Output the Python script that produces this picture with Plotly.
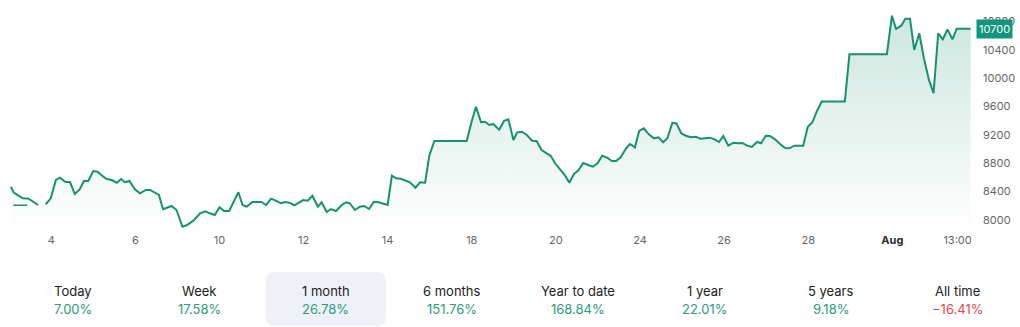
import plotly.graph_objects as go

# ---- price series (session time in trading-day units, price) ----
t = [0.04, 0.11, 0.22, 0.33, 0.45, 0.53, 0.61, 0.69, None, 0.87, 0.99, 1.11, 1.21, 1.33, 1.45,
     1.56, 1.68, 1.78, 1.88, 2.00, 2.10, 2.22, 2.32, 2.44, 2.56, 2.66, 2.75, 2.86, 2.99,
     3.11, 3.25, 3.35, 3.45, 3.56, 3.66, 3.76, 3.86, 3.98, 4.12, 4.22, 4.38, 4.54, 4.66,
     4.77, 4.89, 5.00, 5.11, 5.23, 5.35, 5.45, 5.55, 5.65, 5.78, 6.00, 6.11, 6.23, 6.34,
     6.46, 6.56, 6.66, 6.78, 6.89, 6.99, 7.10, 7.21, 7.34, 7.43, 7.55, 7.65, 7.77, 7.91,
     8.01, 8.10, 8.22, 8.34, 8.44, 8.56, 8.67, 8.78, 8.90, 9.00, 9.10, 9.20, 9.31, 9.41,
     9.53, 9.66, 9.77, 9.89, 9.99, 10.11, 10.88, 11.00, 11.10, 11.22, 11.31, 11.42, 11.51,
     11.65, 11.77, 11.87, 11.99, 12.08, 12.19, 12.31, 12.43, 12.54, 12.66, 12.78, 12.88,
     12.98, 13.10, 13.22, 13.32, 13.43, 13.53, 13.65, 13.77, 13.88, 13.99, 14.10, 14.22,
     14.33, 14.43, 14.54, 14.67, 14.76, 14.88, 14.98, 15.09, 15.21, 15.33, 15.44, 15.55,
     15.65, 15.77, 15.87, 15.98, 16.09, 16.21, 16.33, 16.43, 16.55, 16.67, 16.77, 16.88,
     16.98, 17.10, 17.22, 17.32, 17.43, 17.55, 17.66, 17.78, 17.88, 17.99, 18.09, 18.21,
     18.33, 18.45, 18.55, 18.67, 18.88, 18.99, 19.10, 19.20, 19.32, 19.87, 19.98, 20.87,
     20.99, 21.09, 21.21, 21.31, 21.42, 21.52, 21.64, 21.75, 21.87, 21.98, 22.09, 22.20,
     22.31, 22.43, 22.53, 22.86]

price = [8466, 8382, 8339, 8302, 8300, 8269, 8232, 8208, None, 8218, 8302, 8561, 8594, 8537, 8529,
         8363, 8430, 8551, 8547, 8688, 8678, 8618, 8575, 8561, 8523, 8575, 8529, 8547, 8430,
         8373, 8420, 8420, 8382, 8349, 8147, 8175, 8194, 8137, 7901, 7921, 7986, 8090, 8119,
         8090, 8066, 8175, 8123, 8123, 8278, 8387, 8208, 8184, 8250, 8250, 8208, 8297, 8269,
         8232, 8250, 8240, 8204, 8246, 8278, 8269, 8339, 8184, 8246, 8109, 8151, 8123, 8208,
         8246, 8232, 8137, 8184, 8194, 8151, 8254, 8246, 8226, 8208, 8622, 8585, 8579, 8557,
         8529, 8452, 8529, 8523, 8905, 9112, 9112, 9395, 9597, 9377, 9385, 9338, 9353,
         9272, 9399, 9419, 9126, 9235, 9244, 9197, 9117, 9112, 8985, 8938, 8900,
         8797, 8717, 8622, 8523, 8646, 8693, 8801, 8773, 8749, 8797, 8905, 8876,
         8830, 8830, 8882, 9009, 9070, 9023, 9254, 9292, 9207, 9150, 9165, 9094,
         9150, 9371, 9357, 9221, 9187, 9165, 9173, 9145, 9155, 9159, 9136, 9098,
         9183, 9046, 9088, 9080, 9084, 9046, 9028, 9098, 9080, 9187, 9183, 9136,
         9070, 9013, 9009, 9046, 9046, 9314, 9377, 9526, 9670, 9670, 10340, 10340,
         10883, 10695, 10742, 10840, 10840, 10399, 10635, 10281, 9975, 9787, 10635, 10550,
         10690, 10550, 10700, 10700]

# previous-close marker at the start of the window
ref_t = [0.10, 0.43]
ref_price = [8204, 8204]

last_price = 10700

tick_pos = [1, 3, 5, 7, 9, 11, 13, 15, 17, 19, 21, 22.55]
tick_text = ["4", "6", "10", "12", "14", "18", "20", "24", "26", "28",
             "<b style='color:#2b2b2b'>Aug</b>", "13:00"]
y_ticks = [8000, 8400, 8800, 9200, 9600, 10000, 10400, 10800]

periods = ["Today", "Week", "1 month", "6 months", "Year to date", "1 year", "5 years", "All time"]
changes = [7.00, 17.58, 26.78, 151.76, 168.84, 22.01, 9.18, -16.41]
selected = "1 month"

# ---- layout geometry ----
W, H = 1020, 327
ML, MR, MT, MB = 10, 49, 0, 95
PW, PH = W - ML - MR, H - MT - MB

LINE = "#17916f"
UP = "#2a9c7c"
DOWN = "#e5484d"


def px_x(px):
    return (px - ML) / PW


def px_y(py):
    return (MT + PH - py) / PH


fig = go.Figure()
fig.add_trace(go.Scatter(
    x=t, y=price, mode="lines",
    line=dict(color=LINE, width=2),
    fill="tozeroy",
    fillgradient=dict(type="vertical", start=7826, stop=10900,
                      colorscale=[[0, "rgba(23,144,111,0.0)"],
                                  [1, "rgba(23,144,111,0.22)"]]),
    connectgaps=False, hoverinfo="skip", showlegend=False,
))
fig.add_trace(go.Scatter(
    x=ref_t, y=ref_price, mode="lines",
    line=dict(color=LINE, width=1.5),
    hoverinfo="skip", showlegend=False,
))

# last-price badge on the price scale
fig.add_annotation(
    x=1, xref="paper", xanchor="left", xshift=5,
    y=last_price, yref="y", yanchor="middle",
    text=f"{last_price}", showarrow=False,
    font=dict(family="Inter", size=11, color="white"),
    bgcolor="#10967a", borderpad=2,
)

# period performance strip
col_w = 126.3
x0 = 10
for i, (name, val) in enumerate(zip(periods, changes)):
    cx = x0 + col_w * (i + 0.5)
    if name == selected:
        l, r, tp, bt, rad = cx - 60, cx + 60, 272, 326, 9
        path = (f"M {px_x(l + rad)} {px_y(tp)} L {px_x(r - rad)} {px_y(tp)} "
                f"Q {px_x(r)} {px_y(tp)} {px_x(r)} {px_y(tp + rad)} "
                f"L {px_x(r)} {px_y(bt - rad)} Q {px_x(r)} {px_y(bt)} {px_x(r - rad)} {px_y(bt)} "
                f"L {px_x(l + rad)} {px_y(bt)} Q {px_x(l)} {px_y(bt)} {px_x(l)} {px_y(bt - rad)} "
                f"L {px_x(l)} {px_y(tp + rad)} Q {px_x(l)} {px_y(tp)} {px_x(l + rad)} {px_y(tp)} Z")
        fig.add_shape(type="path", path=path, xref="paper", yref="paper",
                      fillcolor="#eff1f8", line=dict(width=0), layer="below")
    fig.add_annotation(x=px_x(cx), y=px_y(291), xref="paper", yref="paper",
                       text=name, showarrow=False, xanchor="center", yanchor="middle",
                       font=dict(family="Inter", size=13, color="#222222"))
    txt = f"{val:.2f}%" if val >= 0 else f"\u2212{abs(val):.2f}%"
    fig.add_annotation(x=px_x(cx), y=px_y(309), xref="paper", yref="paper",
                       text=txt, showarrow=False, xanchor="center", yanchor="middle",
                       font=dict(family="Inter", size=13, color=UP if val >= 0 else DOWN))

fig.update_layout(
    width=W, height=H,
    margin=dict(l=ML, r=MR, t=MT, b=MB),
    paper_bgcolor="white", plot_bgcolor="white",
    font=dict(family="Inter", size=11, color="#666666"),
    xaxis=dict(range=[0.02, 22.87], showgrid=False, zeroline=False, showline=False,
               tickvals=tick_pos, ticktext=tick_text, ticks="",
               tickfont=dict(family="Inter", size=11, color="#666666"),
               fixedrange=True),
    yaxis=dict(range=[7826, 11105], side="right", showgrid=False, zeroline=False,
               showline=False, tickvals=y_ticks, ticktext=[str(v) for v in y_ticks],
               ticks="", ticklabelstandoff=11,
               tickfont=dict(family="Inter", size=11, color="#666666"),
               fixedrange=True),
)

fig.write_html("out.html")
